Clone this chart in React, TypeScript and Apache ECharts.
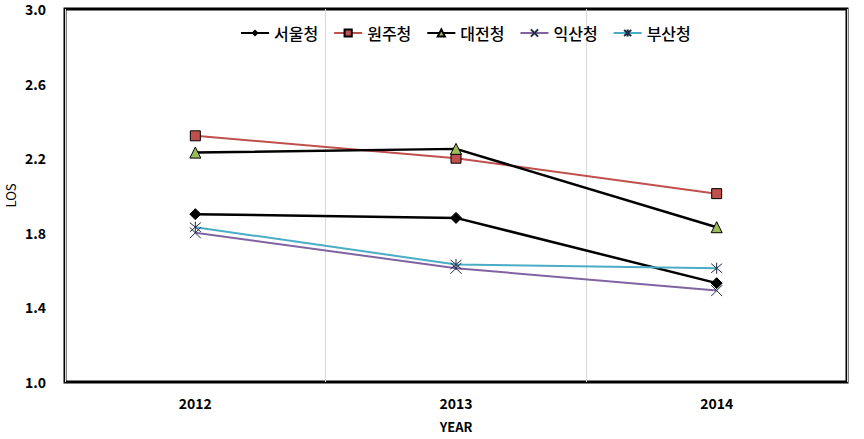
import React, { useEffect, useRef } from "react";
import * as echarts from "echarts";

const years = ["2012", "2013", "2014"];
const seoul = [1.9, 1.88, 1.53];
const wonju = [2.32, 2.2, 2.01];
const daejeon = [2.23, 2.25, 1.83];
const iksan = [1.8, 1.61, 1.49];
const busan = [1.83, 1.63, 1.61];
const yTicks = { min: 1.0, max: 3.0, interval: 0.4 };

const FONT = "'Noto Sans CJK KR', 'Noto Sans', sans-serif";

export default function App() {
  const ref = useRef<HTMLDivElement>(null);
  useEffect(() => {
    if (!ref.current) return;
    const chart = echarts.init(ref.current, null, { renderer: "svg" });
    const xSym = "path://M0,0L10,10M10,0L0,10";
    const starSym = "path://M0,0L10,10M10,0L0,10M5,-1L5,11";
    chart.setOption({
      animation: false,
      backgroundColor: "#fff",
      textStyle: { fontFamily: FONT },
      grid: {
        left: 65, top: 9, width: 782, height: 373, show: true, borderColor: "#000", borderWidth: 3,
        backgroundColor: "transparent", containLabel: false, outerBoundsMode: "none",
      },
      legend: {
        left: 235,
        top: 20,
        itemWidth: 28,
        itemHeight: 9,
        itemGap: 15,
        textStyle: { fontFamily: FONT, fontSize: 16, color: "#000", fontWeight: 500 },
        data: ["서울청", "원주청", "대전청", "익산청", "부산청"],
      },
      xAxis: {
        type: "category",
        data: years,
        boundaryGap: true,
        name: "YEAR",
        nameLocation: "middle",
        nameGap: 38,
        nameMoveOverlap: false,
        nameTextStyle: { fontFamily: FONT, fontSize: 13, fontWeight: "bold", color: "#000" },
        axisLine: { show: false },
        axisTick: { show: false },
        axisLabel: { margin: 14, fontFamily: FONT, fontSize: 14, fontWeight: "bold", color: "#000" },
        splitLine: { show: true, lineStyle: { color: "#D9D9D9", width: 1 } },
      },
      yAxis: {
        type: "value",
        min: yTicks.min,
        max: yTicks.max,
        interval: yTicks.interval,
        name: "LOS",
        nameLocation: "middle",
        nameRotate: 90,
        nameGap: 48,
        nameMoveOverlap: false,
        nameTextStyle: { fontFamily: FONT, fontSize: 13, color: "#000" },
        axisLine: { show: false },
        axisTick: { show: false },
        splitLine: { show: false },
        axisLabel: { margin: 19, fontFamily: FONT, fontSize: 14, fontWeight: "bold", color: "#000", formatter: (v: number) => v.toFixed(1) },
      },
      series: [
        {
          name: "서울청", type: "line", data: seoul, symbol: "diamond", symbolSize: 11,
          lineStyle: { color: "#000", width: 2.5 }, itemStyle: { color: "#000", borderColor: "#000" },
        },
        {
          name: "원주청", type: "line", data: wonju, symbol: "rect", symbolSize: 10,
          lineStyle: { color: "#C0504D", width: 2 }, itemStyle: { color: "#C0504D", borderColor: "#000", borderWidth: 1 },
        },
        {
          name: "대전청", type: "line", data: daejeon, symbol: "triangle", symbolSize: 11,
          lineStyle: { color: "#000", width: 2.5 }, itemStyle: { color: "#9BBB59", borderColor: "#000", borderWidth: 1 },
        },
        {
          name: "익산청", type: "line", data: iksan, symbol: xSym, symbolSize: 11,
          lineStyle: { color: "#8064A2", width: 2 }, itemStyle: { color: "#8064A2", borderColor: "#1F2A44", borderWidth: 1 },
        },
        {
          name: "부산청", type: "line", data: busan, symbol: starSym, symbolSize: 11,
          lineStyle: { color: "#4BACC6", width: 2 }, itemStyle: { color: "#4BACC6", borderColor: "#1F2A44", borderWidth: 1 },
        },
      ],
    });
    return () => chart.dispose();
  }, []);
  return <div ref={ref} style={{ position: "fixed", left: 0, top: 0, width: 864, height: 439 }} />;
}
